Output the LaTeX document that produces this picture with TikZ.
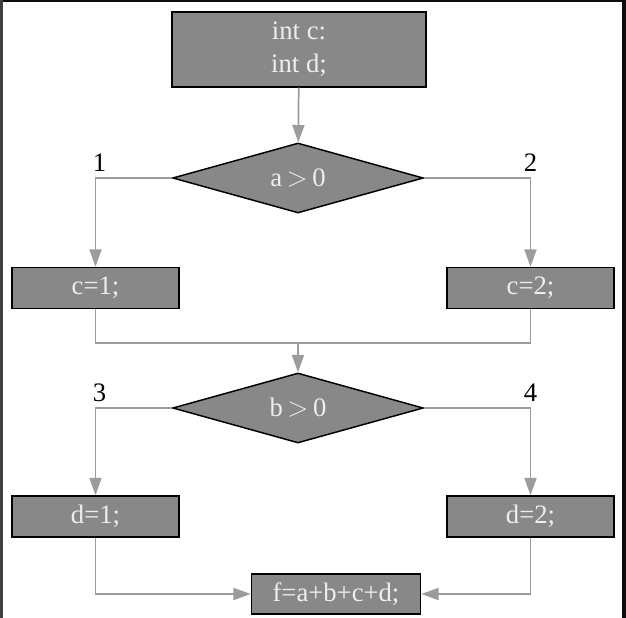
\documentclass[tikz,border=0pt]{standalone}
\usepackage{fontspec}
\setmainfont{Liberation Serif}
\usetikzlibrary{shapes,arrows.meta}
\definecolor{boxgray}{HTML}{888888}
\definecolor{linegray}{HTML}{9C9C9C}
\definecolor{textgray}{HTML}{EEEEEE}
\tikzstyle{block} = [rectangle, draw=black, line width=1.1pt, fill=boxgray,
    text=textgray, font=\fontsize{20}{24.75}\selectfont, align=center, inner sep=0pt]
\tikzstyle{decision} = [diamond, aspect=3.6, draw=black, line width=1.1pt, fill=boxgray,
    text=textgray, font=\fontsize{20}{24}\selectfont, inner sep=0pt,
    minimum width=188pt, minimum height=52.5pt]
\tikzstyle{wire} = [draw=linegray, line width=1.3pt]
\tikzstyle{line} = [wire, -{Triangle[length=13pt,width=9pt,fill=linegray]}]
\tikzstyle{branch} = [font=\fontsize{20}{24}\selectfont, text=black, inner sep=4pt]

\begin{document}
\begin{tikzpicture}[x=0.75pt, y=-0.75pt]

		% frame of the page
		\useasboundingbox (0,0) rectangle (626,618);
		\fill[black!95] (0,0) rectangle (626,2);
		\fill[black!75] (0,0) rectangle (3,618);
		\fill[black!95] (622,0) rectangle (626,618);

		\node [block, minimum width=190.5pt, minimum height=56.25pt] (decl) at (299,49.5) {int c:\\int d;};
		
		\node [decision] (testa) at (298,178) {a$\,>\,$0};
		\node [block, minimum width=125pt, minimum height=30.75pt] (cone) at (95.5,288) {c=1;};
		\node [block, minimum width=125pt, minimum height=30.75pt] (ctwo) at (530.5,288) {c=2;};
		\coordinate (join) at (298,343);
		
		\node [decision] (testb) at (298,408) {b$\,>\,$0};
		\node [block, minimum width=125pt, minimum height=30.75pt] (done) at (95.5,516.5) {d=1;};
		\node [block, minimum width=125pt, minimum height=30.75pt] (dtwo) at (530.5,516.5) {d=2;};
		
		\node [block, minimum width=126.75pt, minimum height=30pt] (sum) at (336,594) {f=a+b+c+d;};
		
		\path [line] (decl) -- (testa);
		\path [line] (testa.west) -| node [branch, pos=0.5, above, xshift=3] {1} (cone.north);
		\path [line] (testa.east) -| node [branch, pos=0.5, above] {2} (ctwo.north);
		\path [wire] (cone.south) |- (join) -| (ctwo.south);
		\path [line] (join) -- (testb.north);
		\path [line] (testb.west) -| node [branch, pos=0.5, above, xshift=3] {3} (done.north);
		\path [line] (testb.east) -| node [branch, pos=0.5, above] {4} (dtwo.north);
		\path [line] (done.south) |- (sum.west);
		\path [line] (dtwo.south) |- (sum.east);
	\end{tikzpicture}
\end{document}
